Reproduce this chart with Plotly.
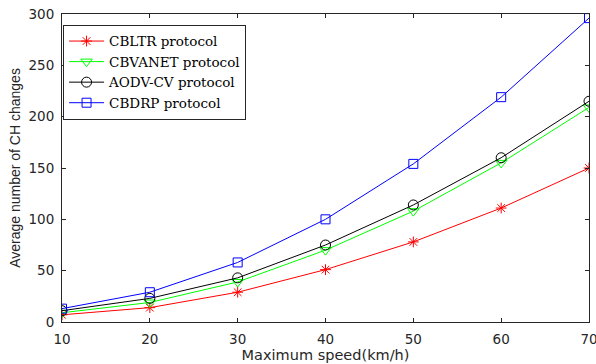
import plotly.graph_objects as go

speed = [10, 20, 30, 40, 50, 60, 70]
cbltr = [7, 14, 29, 51, 78, 111, 150]
cbvanet = [9, 19, 39, 70, 108, 155, 209]
aodv = [11, 23, 43, 75, 114, 160, 215]
cbdrp = [13, 29, 58, 100, 154, 219, 296]
yticks = [0, 50, 100, 150, 200, 250, 300]

names = ["CBLTR protocol", "CBVANET protocol", "AODV-CV protocol", "CBDRP protocol"]
series = [cbltr, cbvanet, aodv, cbdrp]
colors = ["#ff0000", "#00ff00", "#000000", "#0000ff"]
symbols = ["asterisk-open", "triangle-down-open", "circle-open", "square-open"]
sizes = [9, 10, 10, 9]

fig = go.Figure()
for n, s, c, sym, sz in zip(names, series, colors, symbols, sizes):
    fig.add_trace(go.Scatter(x=speed, y=s, name=n, mode="lines+markers",
                             line=dict(color=c, width=1),
                             marker=dict(symbol=sym, size=sz, color=c, line=dict(color=c, width=1))))

axis_common = dict(showline=True, linecolor="#262626", linewidth=1, mirror="ticks",
                   ticks="inside", ticklen=4, tickcolor="#262626", showgrid=False, zeroline=False,
                   ticklabeloverflow="allow", automargin=False,
                   tickfont=dict(family="DejaVu Sans", size=13.5, color="#262626"))
fig.update_xaxes(range=[10, 70], tickvals=speed, ticklabelstandoff=5, **axis_common,
                 title=dict(text="Maximum speed(km/h)", font=dict(family="DejaVu Sans", size=14.5, color="#262626"), standoff=2))
fig.update_yaxes(range=[0, 300], tickvals=yticks, ticklabelstandoff=4, **axis_common,
                 title=dict(text="Average number of CH changes", font=dict(family="Liberation Sans, Arial", size=14, color="#262626"), standoff=4))
fig.update_layout(width=596, height=364, margin=dict(l=62, r=7, t=14, b=42, autoexpand=False),
                  plot_bgcolor="white", paper_bgcolor="white",
                  legend=dict(x=0.002, y=0.965, xanchor="left", yanchor="top",
                              bgcolor="white", bordercolor="#262626", borderwidth=1,
                              font=dict(family="DejaVu Serif", size=13.5, color="#000"),
                              tracegroupgap=0, itemwidth=35))
fig.write_html("out.html")
